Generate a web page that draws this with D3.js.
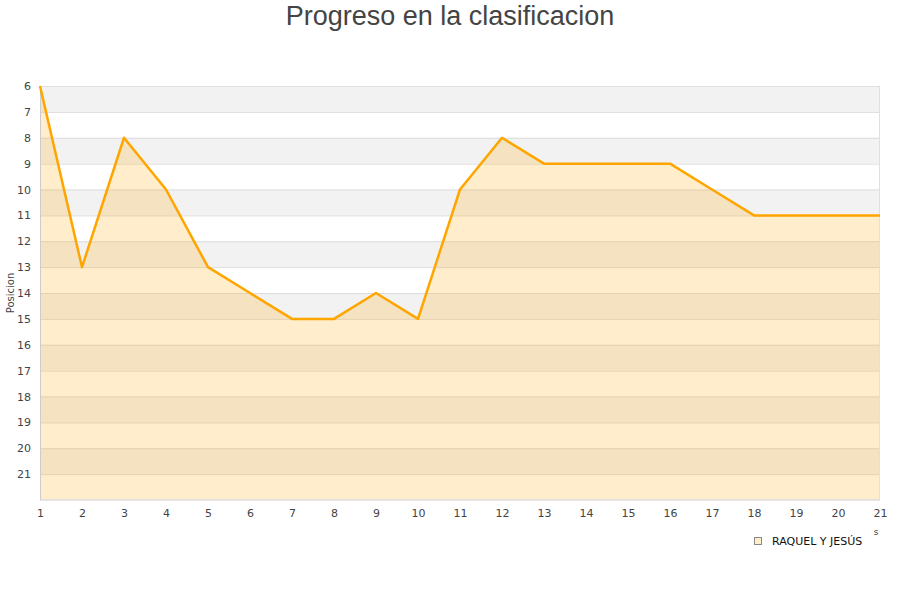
<!DOCTYPE html>
<html><head><meta charset="utf-8">
<script src="https://cdn.jsdelivr.net/npm/d3@7"></script>
<style>body{margin:0;background:#fff}svg{display:block}</style>
</head><body><svg id="c" width="900" height="600"></svg>
<script>
const jornadas = [1,2,3,4,5,6,7,8,9,10,11,12,13,14,15,16,17,18,19,20,21];
const posiciones = [6,13,8,10,13,14,15,15,14,15,10,8,9,9,9,9,10,11,11,11,11];
const yTicks = [6,7,8,9,10,11,12,13,14,15,16,17,18,19,20,21];
const seriesName = "RAQUEL Y JESÚS";
const title = "Progreso en la clasificacion";
const yTitle = "Posicion";

const svg = d3.select("#c");
const L=40,R=880,T=86,B=500;
const x = d3.scaleLinear().domain([1,21]).range([L,R]);
const y = d3.scaleLinear().domain([6,22]).range([T,B]);

// bands
const bands = d3.range(6,22);
svg.append("g").selectAll("rect").data(bands).enter().append("rect")
  .attr("x",L).attr("width",R-L)
  .attr("y",d=>y(d)).attr("height",d=>y(d+1)-y(d))
  .attr("fill",d=>(d%2===0)?"#f2f2f2":"#ffffff");
// grid
svg.append("g").selectAll("line").data(d3.range(7,22)).enter().append("line")
  .attr("x1",L).attr("x2",R).attr("y1",d=>y(d)+0.5).attr("y2",d=>y(d)+0.5)
  .attr("stroke","#dcdcdc").attr("stroke-width",1);
// area
const data = jornadas.map((j,i)=>({j,p:posiciones[i]}));
svg.append("path").datum(data)
  .attr("d",d3.area().x(d=>x(d.j)).y0(y(22)).y1(d=>y(d.p)))
  .attr("fill","rgba(255,165,0,0.2)");
// border
svg.append("rect").attr("x",L+0.5).attr("y",T+0.5).attr("width",R-L-1).attr("height",B-T-1)
  .attr("fill","none").attr("stroke","#e0e0e0");
svg.append("line").attr("x1",L+0.5).attr("x2",L+0.5).attr("y1",T).attr("y2",B)
  .attr("stroke","#cccccc");
svg.append("line").attr("x1",L).attr("x2",R).attr("y1",B+0.5).attr("y2",B+0.5)
  .attr("stroke","#e6e6e6");
// line
svg.append("path").datum(data)
  .attr("d",d3.line().x(d=>x(d.j)).y(d=>y(d.p)))
  .attr("fill","none").attr("stroke","#ffa500").attr("stroke-width",2.5)
  .attr("stroke-linejoin","round");

// axes
const font="DejaVu Sans, sans-serif";
const yAxis = svg.append("g").attr("transform",`translate(${L},0)`)
  .call(d3.axisLeft(y).tickValues(yTicks).tickSize(0).tickPadding(9).tickFormat(d3.format("d")));
yAxis.select(".domain").remove();
yAxis.selectAll("text").attr("font-family",font).attr("font-size",11).attr("fill","#444");
const xAxis = svg.append("g").attr("transform",`translate(0,${B})`)
  .call(d3.axisBottom(x).tickValues(jornadas).tickSize(0).tickPadding(9).tickFormat(d3.format("d")));
xAxis.select(".domain").remove();
xAxis.selectAll("text").attr("font-family",font).attr("font-size",11).attr("fill","#444");

// titles
svg.append("text").attr("x",450).attr("y",25).attr("text-anchor","middle")
  .attr("font-family","Liberation Sans, Arial, sans-serif").attr("font-size",27).attr("fill","#444")
  .text(title);
svg.append("text").attr("transform","translate(14,293) rotate(-90)").attr("text-anchor","middle")
  .attr("font-family",font).attr("font-size",10).attr("fill","#444").text(yTitle);
svg.append("text").attr("x",876).attr("y",535).attr("text-anchor","middle")
  .attr("font-family",font).attr("font-size",9).attr("fill","#444").text("s");

// legend
svg.append("rect").attr("x",754.5).attr("y",537.5).attr("width",7).attr("height",7)
  .attr("fill","#ffedcc").attr("stroke","#888");
svg.append("text").attr("x",772).attr("y",544.5).attr("font-family",font).attr("font-size",11)
  .attr("fill","#111").text(seriesName);
</script></body></html>
